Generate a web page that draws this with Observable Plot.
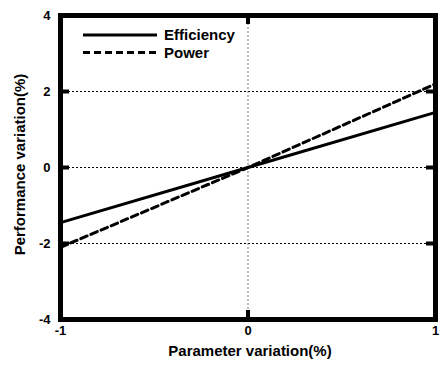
<!DOCTYPE html>
<html>
<head>
<meta charset="utf-8">
<script src="https://cdn.jsdelivr.net/npm/d3@7"></script>
<script src="https://cdn.jsdelivr.net/npm/@observablehq/plot@0.6"></script>
<style>
  html, body { margin: 0; padding: 0; background: #fff; }
  svg { font-family: "Liberation Sans", Arial, sans-serif; font-weight: bold; }
</style>
</head>
<body>
<div id="chart"></div>
<script>
// Data
const paramVariation = [-1, 0, 1];
const efficiencyValues = [-1.45, 0, 1.45];
const powerValues = [-2.1, 0, 2.2];
const seriesNames = ["Efficiency", "Power"];
const xTicks = [-1, 0, 1];
const yTicks = [-4, -2, 0, 2, 4];
const yInnerTicks = [-2, 0, 2];
const xInnerTicks = [0];

const rows = [
  ...paramVariation.map((x, i) => ({x, y: efficiencyValues[i], series: seriesNames[0]})),
  ...paramVariation.map((x, i) => ({x, y: powerValues[i], series: seriesNames[1]}))
];

const W = 440, H = 367;
const mL = 60, mR = 5, mT = 15, mB = 48;
const innerW = W - mL - mR, innerH = H - mT - mB;
const tickLen = 9;
const font = {fontSize: 13, fontWeight: "bold", tickFormat: d => String(d)};

const plot = Plot.plot({
  width: W,
  height: H,
  marginLeft: mL,
  marginRight: mR,
  marginTop: mT,
  marginBottom: mB,
  style: {fontFamily: "'Liberation Sans', Arial, sans-serif", fontWeight: "bold", background: "white", overflow: "visible"},
  x: {domain: [-1, 1]},
  y: {domain: [-4, 4]},
  marks: [
    Plot.gridY(yInnerTicks, {stroke: "black", strokeOpacity: 1, strokeDasharray: "2,2", strokeWidth: 1}),
    Plot.gridX(xInnerTicks, {stroke: "#777", strokeOpacity: 1, strokeDasharray: "2,2", strokeWidth: 1}),
    Plot.line(rows.filter(d => d.series === "Efficiency"), {x: "x", y: "y", stroke: "black", strokeWidth: 3}),
    Plot.line(rows.filter(d => d.series === "Power"), {x: "x", y: "y", stroke: "black", strokeWidth: 3, strokeDasharray: "7,4"}),
    // inward ticks
    Plot.tickY(yInnerTicks, {y: d => d, stroke: "black", strokeWidth: 4, insetRight: innerW - tickLen}),
    Plot.tickY(yInnerTicks, {y: d => d, stroke: "black", strokeWidth: 4, insetLeft: innerW - tickLen}),
    Plot.tickX(xInnerTicks, {x: d => d, stroke: "black", strokeWidth: 4, insetBottom: innerH - tickLen}),
    Plot.tickX(xInnerTicks, {x: d => d, stroke: "black", strokeWidth: 4, insetTop: innerH - tickLen}),
    Plot.frame({stroke: "black", strokeWidth: 5}),
    Plot.axisX(xTicks, {tickSize: 0, tickPadding: 6, ...font, label: null}),
    Plot.axisY(yTicks, {tickSize: 0, tickPadding: 10, ...font, label: null}),
    Plot.text(["Parameter variation(%)"], {frameAnchor: "bottom", textAnchor: "middle", text: d => d, dy: 36, dx: 2, fontSize: 15, fontWeight: "bold"}),
    Plot.text(["Performance variation(%)"], {frameAnchor: "left", textAnchor: "middle", text: d => d, rotate: -90, dx: -40, dy: -3, fontSize: 15, fontWeight: "bold"})
  ]
});

document.getElementById("chart").appendChild(plot);

// Legend (inside the plot, top-left)
const svg = d3.select(plot);
const legend = svg.append("g").attr("transform", `translate(${mL + 23},${mT + 20})`);
seriesNames.forEach((name, i) => {
  const g = legend.append("g").attr("transform", `translate(0,${i * 17.5})`);
  g.append("line")
    .attr("x1", 0).attr("x2", 74).attr("y1", 0).attr("y2", 0)
    .attr("stroke", "black").attr("stroke-width", 3)
    .attr("stroke-dasharray", name === "Power" ? "7,4" : null);
  g.append("text")
    .attr("x", 81).attr("y", 0).attr("dy", "0.35em")
    .attr("text-anchor", "start")
    .attr("font-size", 15).attr("font-weight", "bold")
    .attr("fill", "black")
    .text(name);
});
</script>
</body>
</html>
